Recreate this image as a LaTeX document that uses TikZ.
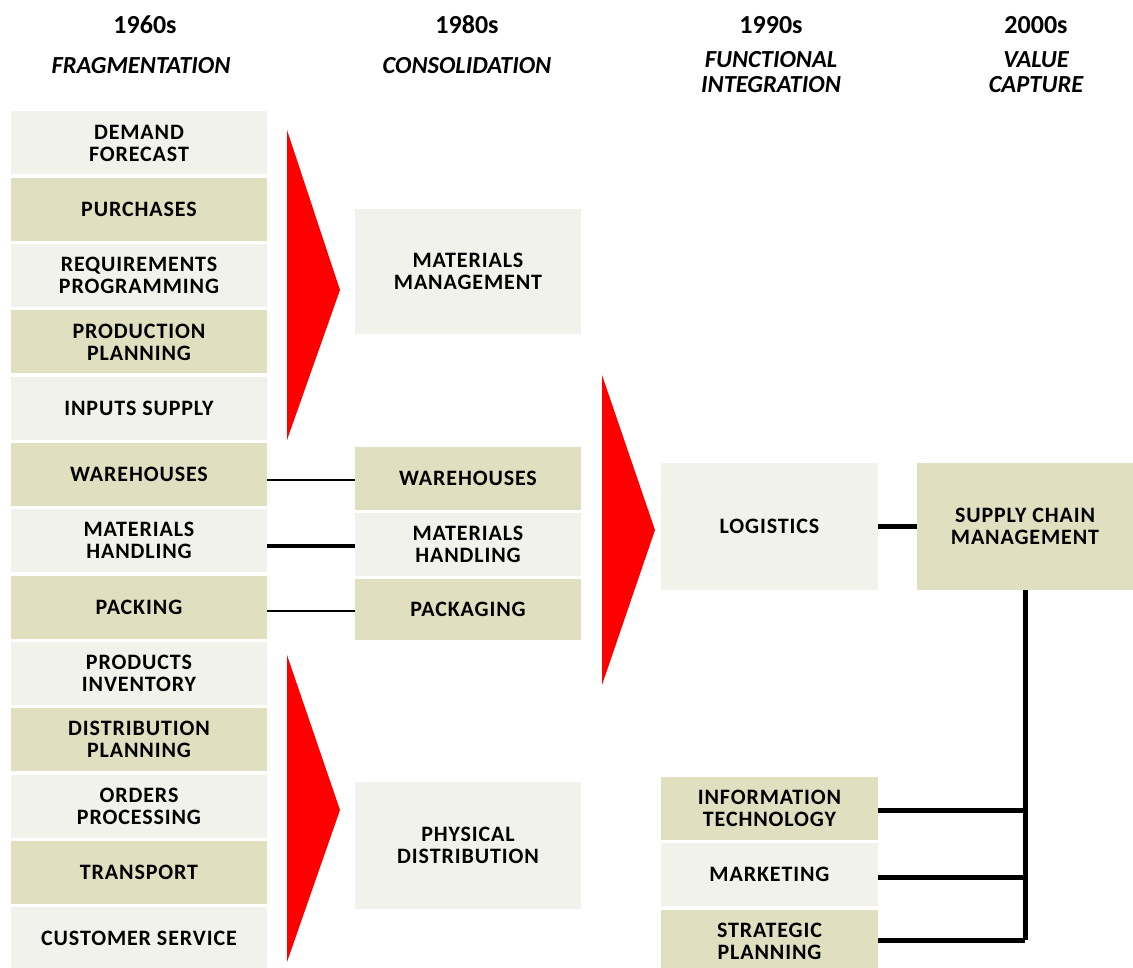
\documentclass[tikz,border=0pt]{standalone}
\usepackage{fontspec}
\setmainfont{Carlito}
\newfontfamily\boxfont[LetterSpace=4]{Carlito}
\definecolor{paleBox}{RGB}{242,242,236}
\definecolor{tanBox}{RGB}{224,224,192}
\definecolor{arrowRed}{RGB}{255,0,0}
\tikzset{
  stage/.style={align=center, inner sep=0pt, font=\fontsize{26}{26}\selectfont\bfseries},
  era/.style={align=center, inner sep=0pt, font=\fontsize{24.5}{25}\selectfont\bfseries\itshape},
  box/.style={minimum width=#1, inner sep=0pt, align=center, font=\boxfont\fontsize{22}{22}\selectfont\bfseries},
  pale/.style={box=#1, fill=paleBox, minimum height=63pt},
  tan/.style={box=#1, fill=tanBox, minimum height=63pt},
  link/.style={line width=2pt},
  bold link/.style={line width=4pt},
  heavy link/.style={line width=5pt}
}

\begin{document}
\begin{tikzpicture}[x=1pt, y=-1pt]
		%%%%% START %%%%%
		\useasboundingbox (0,0) rectangle (1133,968);
		
		% headings
		\node[stage] (h60) at (145, 25) {1960s};
		\node[era] (e60) at (141, 65.5) {FRAGMENTATION};
		\node[stage] (h80) at (467, 25) {1980s};
		\node[era] (e80) at (467, 65.5) {CONSOLIDATION};
		\node[stage] (h90) at (771, 25) {1990s};
		\node[era] (e90) at (771, 72) {FUNCTIONAL\\INTEGRATION};
		\node[stage] (h00) at (1036, 25) {2000s};
		\node[era] (e00) at (1036, 72) {VALUE\\CAPTURE};
		
		% 1960s column
		\node[pale=256pt] (demand) at (139, 143.0) {DEMAND\\FORECAST};
		\node[tan=256pt] (purch) at (139, 209.3) {PURCHASES};
		\node[pale=256pt] (reqprog) at (139, 275.6) {REQUIREMENTS\\PROGRAMMING};
		\node[tan=256pt] (prodplan) at (139, 341.9) {PRODUCTION\\PLANNING};
		\node[pale=256pt] (inputs) at (139, 408.2) {INPUTS SUPPLY};
		\node[tan=256pt] (whold) at (139, 474.5) {WAREHOUSES};
		\node[pale=256pt] (mhold) at (139, 540.8) {MATERIALS\\HANDLING};
		\node[tan=256pt] (packing) at (139, 607.1) {PACKING};
		\node[pale=256pt] (prodinv) at (139, 673.4) {PRODUCTS\\INVENTORY};
		\node[tan=256pt] (distplan) at (139, 739.7) {DISTRIBUTION\\PLANNING};
		\node[pale=256pt] (orders) at (139, 806.0) {ORDERS\\PROCESSING};
		\node[tan=256pt] (transport) at (139, 872.3) {TRANSPORT};
		\node[pale=256pt] (custserv) at (139, 938.6) {CUSTOMER SERVICE};
		
		% 1980s column
		\node[pale=226pt, minimum height=125pt] (matmgmt) at (468, 271.5) {MATERIALS\\MANAGEMENT};
		\node[tan=226pt] (whnew) at (468, 478.5) {WAREHOUSES};
		\node[pale=226pt] (mhnew) at (468, 544.5) {MATERIALS\\HANDLING};
		\node[tan=226pt, minimum height=61pt] (packaging) at (468, 609.5) {PACKAGING};
		\node[pale=226pt, minimum height=127pt] (physdist) at (468, 845.5) {PHYSICAL\\DISTRIBUTION};
		
		% 1990s column
		\node[pale=217pt, minimum height=127pt] (logistics) at (769.5, 526.5) {LOGISTICS};
		\node[tan=217pt] (infotech) at (769.5, 808.5) {INFORMATION\\TECHNOLOGY};
		\node[pale=217pt] (marketing) at (769.5, 874.5) {MARKETING};
		\node[tan=217pt] (strategic) at (769.5, 941.5) {STRATEGIC\\PLANNING};
		
		% 2000s column
		\node[tan=216pt, minimum height=127pt] (scm) at (1025, 526.5) {SUPPLY CHAIN\\MANAGEMENT};
		
		% red wedges
		\fill[arrowRed] (287, 130) -- (340, 290) -- (287, 440) -- cycle;
		\fill[arrowRed] (287, 655) -- (340, 810) -- (287, 962) -- cycle;
		\fill[arrowRed] (602, 375) -- (655, 530) -- (602, 685) -- cycle;
		
		% connectors
		\draw[link] (whold.east |- 0, 480) -- (whnew.west |- 0, 480);
		\draw[bold link] (mhold.east |- 0, 546) -- (mhnew.west |- 0, 546);
		\draw[link] (packing.east |- 0, 611) -- (packaging.west |- 0, 611);
		\draw[heavy link] (logistics.east) -- (scm.west);
		
		\coordinate (spine) at (scm.south |- 0, 940);
		\draw[heavy link] (scm.south) -- (spine);
		\draw[heavy link] (infotech.east |- 0, 810) -- (scm.south |- 0, 810);
		\draw[heavy link] (marketing.east |- 0, 877) -- (scm.south |- 0, 877);
		\draw[heavy link] (strategic.east |- spine) -- (spine);
		
		%%%%% END %%%%%
\end{tikzpicture}
\end{document}
